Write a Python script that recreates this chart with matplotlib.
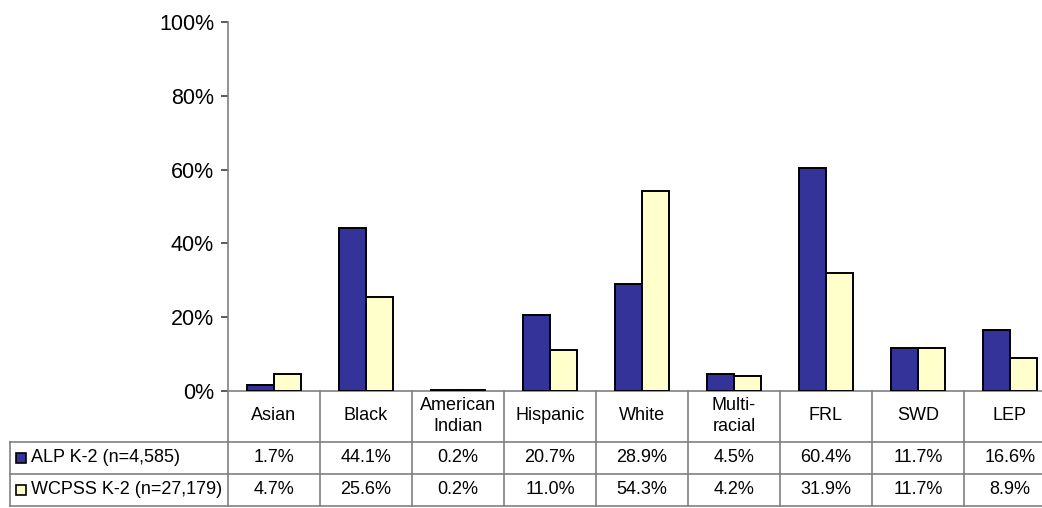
import numpy as np
import matplotlib.pyplot as plt
from matplotlib.lines import Line2D
from matplotlib.patches import Rectangle
from matplotlib.transforms import blended_transform_factory

plt.rcParams['font.family'] = ['Liberation Sans', 'DejaVu Sans']

categories = ['Asian', 'Black', 'American\nIndian', 'Hispanic', 'White',
              'Multi-\nracial', 'FRL', 'SWD', 'LEP']
series_names = ['ALP K-2 (n=4,585)', 'WCPSS K-2 (n=27,179)']
alp = [1.7, 44.1, 0.2, 20.7, 28.9, 4.5, 60.4, 11.7, 16.6]
wcpss = [4.7, 25.6, 0.2, 11.0, 54.3, 4.2, 31.9, 11.7, 8.9]
alp_labels = ['1.7%', '44.1%', '0.2%', '20.7%', '28.9%', '4.5%', '60.4%', '11.7%', '16.6%']
wcpss_labels = ['4.7%', '25.6%', '0.2%', '11.0%', '54.3%', '4.2%', '31.9%', '11.7%', '8.9%']
colors = ['#333399', '#FFFFCC']

W, H = 1042, 508
fig = plt.figure(figsize=(W / 100, H / 100), dpi=100)
# plot area in pixel terms: left 228, bottom at y=391, top at y=22, 92 px per category
ax = fig.add_axes([228 / W, (H - 391) / H, 828 / W, 369 / H])

x = np.arange(len(categories))
bw = 0.29
ax.bar(x - bw / 2, alp, bw, color=colors[0], edgecolor='black', linewidth=1.4, zorder=3)
ax.bar(x + bw / 2, wcpss, bw, color=colors[1], edgecolor='black', linewidth=1.4, zorder=3)

ax.set_xlim(-0.5, len(categories) - 0.5)
ax.set_ylim(0, 100)
ax.set_yticks([0, 20, 40, 60, 80, 100])
ax.set_yticklabels([f'{v}%' for v in range(0, 101, 20)], fontsize=15.5)
ax.set_xticks([])
for s in ['top', 'right']:
    ax.spines[s].set_visible(False)
for s in ['left', 'bottom']:
    ax.spines[s].set_color('#808080')
    ax.spines[s].set_linewidth(1.2)
ax.tick_params(axis='y', length=5, width=1.2, color='#404040', pad=5)

# data table below the plot
tr = blended_transform_factory(ax.transData, ax.transAxes)
grid_color = '#808080'
row_y = [-51 / 369, -83 / 369, -115 / 369]
left_x = (10 - 228) / 92 - 0.5
right_x = len(categories) - 0.5
fs = 13

for y in row_y:
    fig.add_artist(Line2D([left_x, right_x + 0.2], [y, y], transform=tr,
                          color=grid_color, lw=1.2, clip_on=False))
fig.add_artist(Line2D([left_x, left_x], [row_y[0], row_y[2]], transform=tr,
                      color=grid_color, lw=1.2, clip_on=False))
for b in np.arange(len(categories) + 1) - 0.5:
    fig.add_artist(Line2D([b, b], [0, row_y[2]], transform=tr,
                          color=grid_color, lw=1.2, clip_on=False))

for i, c in enumerate(categories):
    ax.text(i, -25 / 369, c, transform=tr, ha='center', va='center',
            fontsize=fs, linespacing=1.3, clip_on=False)
    ax.text(i, -67 / 369, alp_labels[i], transform=tr, ha='center', va='center',
            fontsize=fs, clip_on=False)
    ax.text(i, -99 / 369, wcpss_labels[i], transform=tr, ha='center', va='center',
            fontsize=fs, clip_on=False)

# series keys in the row headers
for name, color, yc in zip(series_names, colors, [-67 / 369, -99 / 369]):
    sq = Rectangle((16 / W, (H - 391) / H + yc * 369 / H - 5 / H), 10 / W, 10 / H,
                   transform=fig.transFigure, facecolor=color, edgecolor='black',
                   lw=1.2)
    fig.add_artist(sq)
    fig.text(31 / W, (H - 391) / H + yc * 369 / H, name, ha='left', va='center',
             fontsize=fs)

fig.savefig('out.png', dpi=100)
